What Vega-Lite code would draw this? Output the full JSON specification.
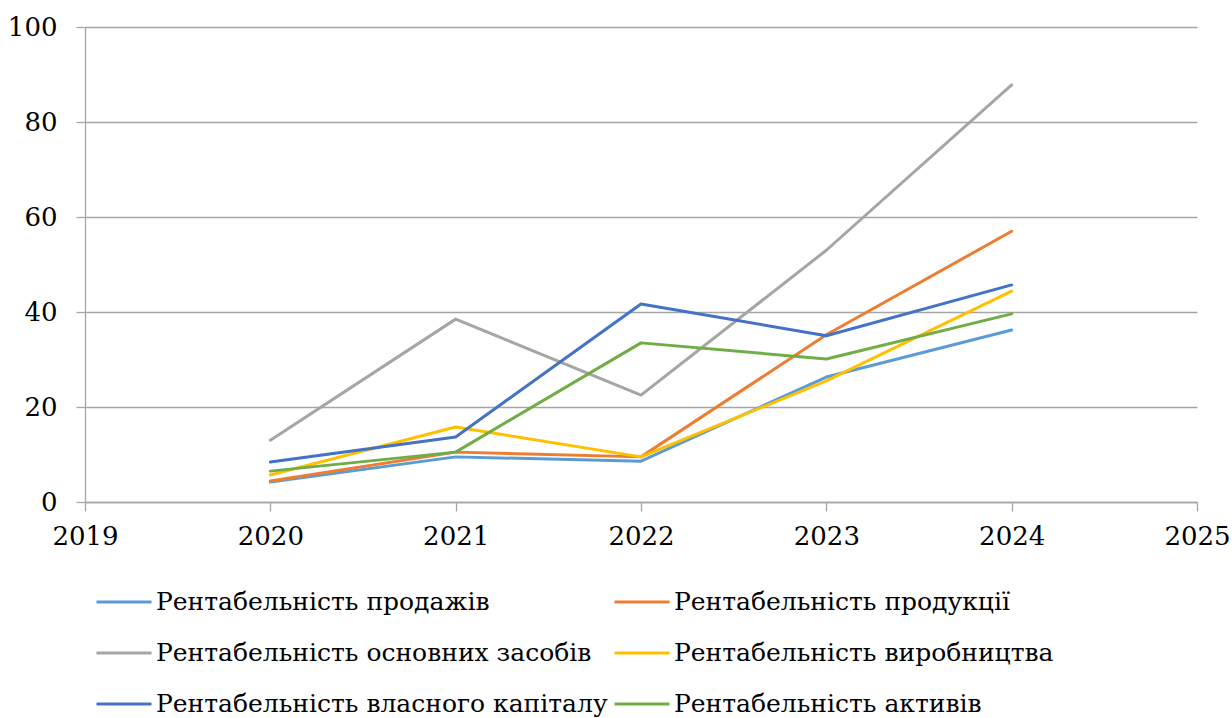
{
  "$schema": "https://vega.github.io/schema/vega-lite/v6.json",
  "width": 1112,
  "height": 475,
  "autosize": "none",
  "padding": {"left": 85, "top": 27, "right": 35, "bottom": 216},
  "background": "white",
  "config": {
    "font": "DejaVu Serif",
    "axis": {"labelFont": "DejaVu Serif"},
    "legend": {"labelFont": "DejaVu Serif"},
    "view": {"stroke": null}
  },
  "data": {
    "values": [
      {"year": 2020, "series": "Рентабельність продажів", "value": 4.2},
      {"year": 2021, "series": "Рентабельність продажів", "value": 9.5},
      {"year": 2022, "series": "Рентабельність продажів", "value": 8.6},
      {"year": 2023, "series": "Рентабельність продажів", "value": 26.3},
      {"year": 2024, "series": "Рентабельність продажів", "value": 36.2},
      {"year": 2020, "series": "Рентабельність продукції", "value": 4.4},
      {"year": 2021, "series": "Рентабельність продукції", "value": 10.5},
      {"year": 2022, "series": "Рентабельність продукції", "value": 9.5},
      {"year": 2023, "series": "Рентабельність продукції", "value": 35.2},
      {"year": 2024, "series": "Рентабельність продукції", "value": 57.0},
      {"year": 2020, "series": "Рентабельність основних засобів", "value": 13.0},
      {"year": 2021, "series": "Рентабельність основних засобів", "value": 38.5},
      {"year": 2022, "series": "Рентабельність основних засобів", "value": 22.5},
      {"year": 2023, "series": "Рентабельність основних засобів", "value": 53.0},
      {"year": 2024, "series": "Рентабельність основних засобів", "value": 87.8},
      {"year": 2020, "series": "Рентабельність виробництва", "value": 5.7},
      {"year": 2021, "series": "Рентабельність виробництва", "value": 15.8},
      {"year": 2022, "series": "Рентабельність виробництва", "value": 9.5},
      {"year": 2023, "series": "Рентабельність виробництва", "value": 25.5},
      {"year": 2024, "series": "Рентабельність виробництва", "value": 44.4},
      {"year": 2020, "series": "Рентабельність власного капіталу", "value": 8.4},
      {"year": 2021, "series": "Рентабельність власного капіталу", "value": 13.7},
      {"year": 2022, "series": "Рентабельність власного капіталу", "value": 41.7},
      {"year": 2023, "series": "Рентабельність власного капіталу", "value": 35.0},
      {"year": 2024, "series": "Рентабельність власного капіталу", "value": 45.7},
      {"year": 2020, "series": "Рентабельність активів", "value": 6.5},
      {"year": 2021, "series": "Рентабельність активів", "value": 10.5},
      {"year": 2022, "series": "Рентабельність активів", "value": 33.5},
      {"year": 2023, "series": "Рентабельність активів", "value": 30.1},
      {"year": 2024, "series": "Рентабельність активів", "value": 39.6}
    ]
  },
  "mark": {"type": "line", "strokeWidth": 3, "strokeCap": "round", "strokeJoin": "round"},
  "encoding": {
    "x": {
      "field": "year",
      "type": "quantitative",
      "scale": {"domain": [2019, 2025], "nice": false, "zero": false},
      "axis": {
        "title": null,
        "values": [2019, 2020, 2021, 2022, 2023, 2024, 2025],
        "format": "d",
        "grid": false,
        "domainColor": "#A6A6A6",
        "domainWidth": 1.3,
        "tickColor": "#A6A6A6",
        "tickWidth": 1.3,
        "tickSize": 9,
        "labelPadding": 12,
        "labelFont": "DejaVu Serif",
        "labelFontSize": 26,
        "labelColor": "#000000",
        "labelFlush": false
      }
    },
    "y": {
      "field": "value",
      "type": "quantitative",
      "scale": {"domain": [0, 100], "nice": false},
      "axis": {
        "title": null,
        "values": [0, 20, 40, 60, 80, 100],
        "grid": true,
        "gridColor": "#A6A6A6",
        "gridWidth": 1.3,
        "domainColor": "#A6A6A6",
        "domainWidth": 1.3,
        "tickColor": "#A6A6A6",
        "tickWidth": 1.3,
        "tickSize": 9,
        "labelPadding": 19,
        "labelFont": "DejaVu Serif",
        "labelFontSize": 26,
        "labelColor": "#000000"
      }
    },
    "color": {
      "field": "series",
      "type": "nominal",
      "sort": null,
      "scale": {
        "domain": [
          "Рентабельність продажів",
          "Рентабельність продукції",
          "Рентабельність основних засобів",
          "Рентабельність виробництва",
          "Рентабельність власного капіталу",
          "Рентабельність активів"
        ],
        "range": ["#5B9BD5", "#ED7D31", "#A5A5A5", "#FFC000", "#4472C4", "#70AD47"]
      },
      "legend": {
        "title": null,
        "orient": "none",
        "legendX": 10,
        "legendY": 546,
        "direction": "horizontal",
        "columns": 2,
        "columnPadding": 0,
        "rowPadding": 9,
        "symbolType": "stroke",
        "symbolSize": 3025,
        "symbolStrokeWidth": 3,
        "labelFont": "DejaVu Serif",
        "labelFontSize": 25,
        "labelColor": "#000000",
        "labelOffset": 3,
        "labelLimit": 600
      }
    }
  }
}
